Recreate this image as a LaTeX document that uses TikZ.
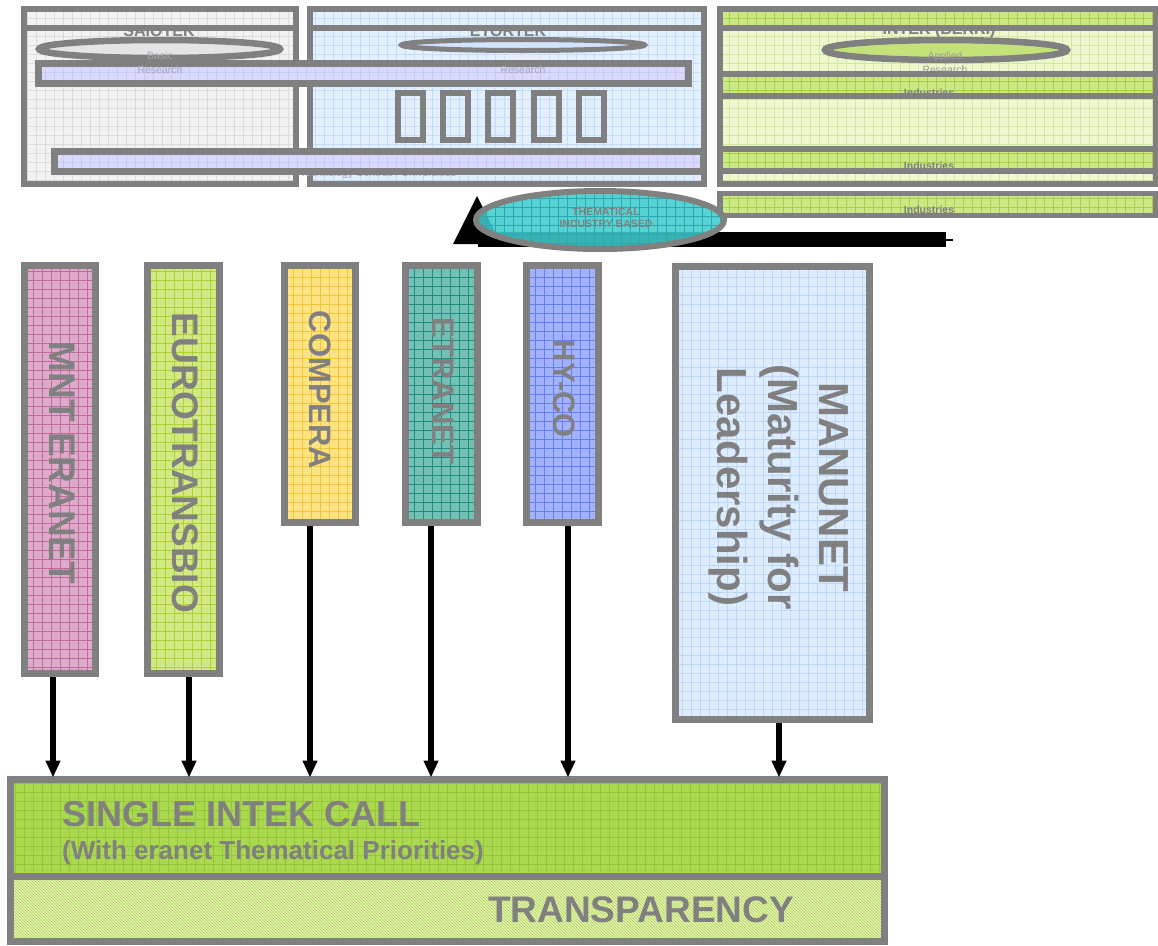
\documentclass[tikz,border=0pt]{standalone}
\usepackage{fontspec}
\setmainfont{Liberation Sans}
\usetikzlibrary{patterns,arrows.meta}
\definecolor{bgray}{HTML}{808080}
\definecolor{tgray}{HTML}{808080}
\definecolor{lgtext}{HTML}{A4A4B4}
\definecolor{saiofill}{HTML}{F2F2F2}\definecolor{saiogrid}{HTML}{DCDCDC}
\definecolor{etofill}{HTML}{E3F0FF}\definecolor{etogrid}{HTML}{C4DCF8}
\definecolor{intfill}{HTML}{EEF8D0}\definecolor{intgrid}{HTML}{D0E8A0}
\definecolor{intband}{HTML}{CBE786}\definecolor{intbandgrid}{HTML}{A8D048}
\definecolor{lav}{HTML}{D9D9FF}\definecolor{lavgrid}{HTML}{C8C8F0}
\definecolor{saioell}{HTML}{E4E4E4}
\definecolor{etoell}{HTML}{D0E4FF}
\definecolor{intell}{HTML}{C4E27A}
\definecolor{tealfill}{HTML}{40CCCC}\definecolor{tealgrid}{HTML}{28A8B0}
\definecolor{mntfill}{HTML}{DEAACA}\definecolor{mntgrid}{HTML}{C06A9E}
\definecolor{eurofill}{HTML}{D2E883}\definecolor{eurogrid}{HTML}{ACD236}
\definecolor{compfill}{HTML}{FFE282}\definecolor{compgrid}{HTML}{F2C63A}
\definecolor{etrfill}{HTML}{74C0B4}\definecolor{etrgrid}{HTML}{1E8E80}
\definecolor{hyfill}{HTML}{A2B2FF}\definecolor{hygrid}{HTML}{6480F0}
\definecolor{manfill}{HTML}{DDEDFF}\definecolor{mangrid}{HTML}{BCD8F6}
\definecolor{singfill}{HTML}{AAD84E}\definecolor{singgrid}{HTML}{96C43A}
\definecolor{transfill}{HTML}{E4F2B8}\definecolor{transhatch}{HTML}{AAD448}
\tikzset{
  gfill/.style 2 args={fill=#1, path picture={\draw[#2, line width=0.55pt] (path picture bounding box.south west) grid[step=9pt] (path picture bounding box.north east);}},
  border/.style={draw=bgray, line width=6pt},
  vbox/.style={draw=bgray, line width=7pt, inner sep=0pt, rectangle},
  vtext/.style={rotate=-90, text=tgray, font=\fontsize{37}{40}\selectfont\bfseries, inner sep=0pt},
  vtextsm/.style={rotate=-90, text=tgray, font=\fontsize{31}{34}\selectfont\bfseries, inner sep=0pt},
  title/.style={text=tgray, font=\fontsize{16}{18}\selectfont\bfseries, inner sep=0pt},
  small/.style={text=lgtext, font=\fontsize{10.5}{12}\selectfont, inner sep=0pt},
  indus/.style={text=tgray, font=\fontsize{10.5}{12}\selectfont\bfseries, inner sep=0pt},
  arr/.style={line width=5.5pt, -{Triangle[width=14pt,length=17pt]}, shorten >=-1.5pt}
}
\begin{document}
\begin{tikzpicture}[x=1pt,y=-1pt]
\useasboundingbox (0,0) rectangle (1158,945);

% ---------- SAIOTEK panel ----------
\path[gfill={saiofill}{saiogrid}] (24,9) rectangle (296,184);
\draw[border] (24,9) rectangle (296,184);
\node[title] (saiotitle) at (159,30.5) {SAIOTEK};
\draw[border, gfill={saiofill}{saiogrid}] (24,9) rectangle (296,27.5);
\draw[border, line width=6.5pt, fill=saioell] (159.5,49) ellipse [x radius=120.5, y radius=9];
\node[small] (basic) at (160,56) {Basic};

% ---------- ETORTEK panel ----------
\path[gfill={etofill}{etogrid}] (310,9) rectangle (704,184);
\draw[border] (310,9) rectangle (704,184);
\node[title] (etotitle) at (508,30.5) {ETORTEK};
\draw[border, gfill={etofill}{etogrid}] (310,9) rectangle (704,27.5);
\draw[border, line width=5pt, fill=etoell] (523,45) ellipse [x radius=121.5, y radius=5.5];
\node[small, text=white!80!lgtext] (strategic) at (523,57.5) {Strategic};
\foreach \xa in {398,443,488,534,579}{
  \draw[border, gfill={etofill}{etogrid}] (\xa,93) rectangle ({\xa+25},140);
}

% hidden labels under bars
\node[small, anchor=base] (rdc) at (345,87) {R\&D Centres / Universities};
\node[small, anchor=base] (tecc) at (378,176) {Technology Centres / Universities};

% lavender bars
\draw[border, line width=7pt, gfill={lav}{lavgrid}] (38.5,63.5) rectangle (688.5,83.5);
\draw[border, line width=7pt, gfill={lav}{lavgrid}] (54.5,151.5) rectangle (703.5,171.5);
\node[small] (res1) at (160,69.5) {Research};
\node[small] (res2) at (523,69.5) {Research};

% ---------- INTEK (BERRI) panel ----------
\path[gfill={intfill}{intgrid}] (720,9) rectangle (1156,184);
\node[title] (inttitle) at (939,30.5) {INTEK (BERRI)};
\path[gfill={intband}{intbandgrid}] (720,9) rectangle (1156,27.5);
\draw[border] (720,9) rectangle (1156,27.5);
\draw[border] (720,9) rectangle (1156,184);
\draw[border, line width=6.5pt, fill=intell] (946,50) ellipse [x radius=121, y radius=10];
\node[small, text=tgray!80] (applied) at (945,57) {Applied};
\node[small, text=tgray!80] (res3) at (945,69.5) {Research};
\path[gfill={intband}{intbandgrid}] (720,74) rectangle (1156,96);
\path[gfill={intband}{intbandgrid}] (720,149) rectangle (1156,171);
\path[gfill={intband}{intbandgrid}] (720,193.5) rectangle (1156,215.5);
\node[indus] (ind1) at (929,93) {Industries};
\node[indus] (ind2) at (929,166) {Industries};
\node[indus] (ind3) at (929,210) {Industries};
\draw[border] (720,74) rectangle (1156,96);
\draw[border] (720,149) rectangle (1156,171);
\draw[border, line width=5.5pt] (720,193.5) rectangle (1156,215.5);

% ---------- block arrow and thematic ellipse ----------
\fill[black] (478,232) rectangle (946,247);
\draw[black, line width=2pt] (946,239.5) -- (953,239.5);
\fill[black] (453,244) -- (477,196) -- (501,244) -- cycle;
\draw[border, fill opacity=0.88, gfill={tealfill}{tealgrid}] (600,220) ellipse [x radius=124, y radius=29];
\node[indus, font=\fontsize{10.5}{12}\selectfont\bfseries] (them1) at (606,212) {THEMATICAL};
\node[indus, font=\fontsize{10.5}{12}\selectfont\bfseries] (them2) at (606,224) {INDUSTRY BASED};

% ---------- vertical ERA-NET boxes ----------
\node[vbox, gfill={mntfill}{mntgrid}, minimum width=71pt, minimum height=408pt] (mnt) at (60,469.5) {};
\node[vtext] (mntt) at (62,463) {MNT ERANET};
\node[vbox, gfill={eurofill}{eurogrid}, minimum width=72pt, minimum height=408pt] (euro) at (183.5,469.5) {};
\node[vtext] (eurot) at (185,463) {EUROTRANSBIO};
\node[vbox, gfill={compfill}{compgrid}, minimum width=71pt, minimum height=257pt] (comp) at (320,394) {};
\node[vtextsm] (compt) at (320,390) {COMPERA};
\node[vbox, gfill={etrfill}{etrgrid}, minimum width=72pt, minimum height=257pt] (etr) at (441.5,394) {};
\node[vtextsm] (etrt) at (443,391) {ETRANET};
\node[vbox, gfill={hyfill}{hygrid}, minimum width=72pt, minimum height=257pt] (hyco) at (562.5,394) {};
\node[vtextsm] (hycot) at (564,389) {HY-CO};
\node[vbox, gfill={manfill}{mangrid}, minimum width=194pt, minimum height=453pt] (manu) at (772.5,493) {};
\node[rotate=-90, text=tgray, font=\fontsize{42}{51}\selectfont\bfseries, align=center, inner sep=0pt] (manutext) at (779,487) {MANUNET\\(Maturity for\\Leadership)};

% ---------- bottom boxes ----------
\node[vbox, gfill={singfill}{singgrid}, minimum width=874pt, minimum height=97pt] (single) at (447.5,828) {};
\node[vbox, preaction={fill=transfill}, pattern=north west lines, pattern color=transhatch, minimum width=874pt, minimum height=65pt] (trans) at (447.5,909) {};
\node[anchor=base west, inner sep=0pt, text=tgray, font=\fontsize{36}{40}\selectfont\bfseries] (sic) at (62,826) {SINGLE INTEK CALL};
\node[anchor=base west, inner sep=0pt, text=tgray, font=\fontsize{26}{30}\selectfont\bfseries] (wet) at (62,859) {(With eranet Thematical Priorities)};
\node[anchor=base west, inner sep=0pt, text=tgray, font=\fontsize{37}{40}\selectfont\bfseries] (transt) at (488,922) {TRANSPARENCY};

% ---------- arrows ----------
\draw[arr] ([xshift=-7pt]mnt.south) -- ([xshift=-7pt]mnt.south |- single.north);
\draw[arr] ([xshift=5.5pt]euro.south) -- ([xshift=5.5pt]euro.south |- single.north);
\draw[arr] ([xshift=-10pt]comp.south) -- ([xshift=-10pt]comp.south |- single.north);
\draw[arr] ([xshift=-10.5pt]etr.south) -- ([xshift=-10.5pt]etr.south |- single.north);
\draw[arr] ([xshift=5.5pt]hyco.south) -- ([xshift=5.5pt]hyco.south |- single.north);
\draw[arr] ([xshift=6.5pt]manu.south) -- ([xshift=6.5pt]manu.south |- single.north);
\end{tikzpicture}
\end{document}
